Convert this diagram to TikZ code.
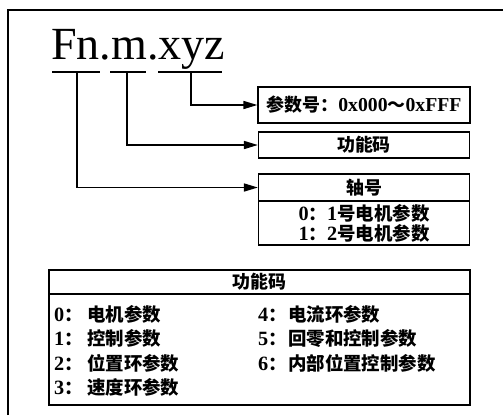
\documentclass[tikz,border=0pt]{standalone}
\usepackage{fontspec}
\setmainfont{Liberation Serif}[Scale=1.1]
\newfontfamily\cjk{Noto Sans CJK SC}
\usetikzlibrary{arrows.meta}
\newcommand{\zh}[1]{{\cjk\bfseries #1}}
\begin{document}
\begin{tikzpicture}[x=1bp,y=-1bp,
  frame/.style={line width=1.6bp},
  boxcell/.style={draw,line width=1.2bp,rectangle,inner sep=0pt,minimum width=211bp,font=\fontsize{18}{21}\selectfont\bfseries},
  line/.style={line width=1.6bp},
  arr/.style={line width=1.6bp,-{Triangle[length=14bp,width=8bp]}},
  item/.style={anchor=west,inner sep=0pt,font=\fontsize{18.5}{21}\selectfont\bfseries}]
\useasboundingbox (0,0) rectangle (503,415);
% outer frame (only top and left visible)
\draw[frame] (8,415) -- (8,10) -- (503,10);
% title
\node[anchor=base west,inner sep=0pt,font=\fontsize{42}{46}\selectfont] (title) at (51,59) {Fn.m.xyz};
% underlines
\coordinate (u1a) at (52,72); \coordinate (u1b) at (100,72);
\coordinate (u2a) at (110,72); \coordinate (u2b) at (146,72);
\coordinate (u3a) at (158,72); \coordinate (u3b) at (222,72);
\coordinate (v1) at (77,72); \coordinate (v2) at (127,72); \coordinate (v3) at (191,72);
\draw[line] (u1a) -- (u1b);
\draw[line] (u2a) -- (u2b);
\draw[line] (u3a) -- (u3b);
% boxes
\node[boxcell,minimum width=212bp,minimum height=36bp] (b1) at (364,105) {\zh{参数号：}0x000\zh{～}0xFFF};
\node[boxcell,minimum height=26bp] (b2) at (364,145) {\zh{功能码}};
\node[boxcell,minimum height=27bp] (b3h) at (364,187.5) {\zh{轴号}};
\node[boxcell,minimum height=44bp,align=center,font=\fontsize{18.5}{20}\selectfont\bfseries] (b3b) at (364,223) {0\zh{：}1\zh{号电机参数}\\1\zh{：}2\zh{号电机参数}};
% connectors
\draw[arr] (v3) |- (b1.west);
\draw[arr] (v2) |- (b2.west);
\draw[arr] (v1) |- (b3h.west);
% bottom table
\node[boxcell,minimum width=421bp,minimum height=24bp] (th) at (259.5,282) {\zh{功能码}};
\node[draw,line width=1.2bp,rectangle,inner sep=0pt,minimum width=421bp,minimum height=111bp] (tb) at (259.5,349.5) {};
\node[item] (i0) at (54,314) {\makebox[33bp][l]{0\zh{：}}\zh{电机参数}};
\node[item] (i1) at (54,338.5) {\makebox[33bp][l]{1\zh{：}}\zh{控制参数}};
\node[item] (i2) at (54,363) {\makebox[33bp][l]{2\zh{：}}\zh{位置环参数}};
\node[item] (i3) at (54,387.5) {\makebox[33bp][l]{3\zh{：}}\zh{速度环参数}};
\node[item] (i4) at (258,314) {\makebox[30bp][l]{4\zh{：}}\zh{电流环参数}};
\node[item] (i5) at (258,338.5) {\makebox[30bp][l]{5\zh{：}}\zh{回零和控制参数}};
\node[item] (i6) at (258,363) {\makebox[30bp][l]{6\zh{：}}\zh{内部位置控制参数}};
\end{tikzpicture}
\end{document}
